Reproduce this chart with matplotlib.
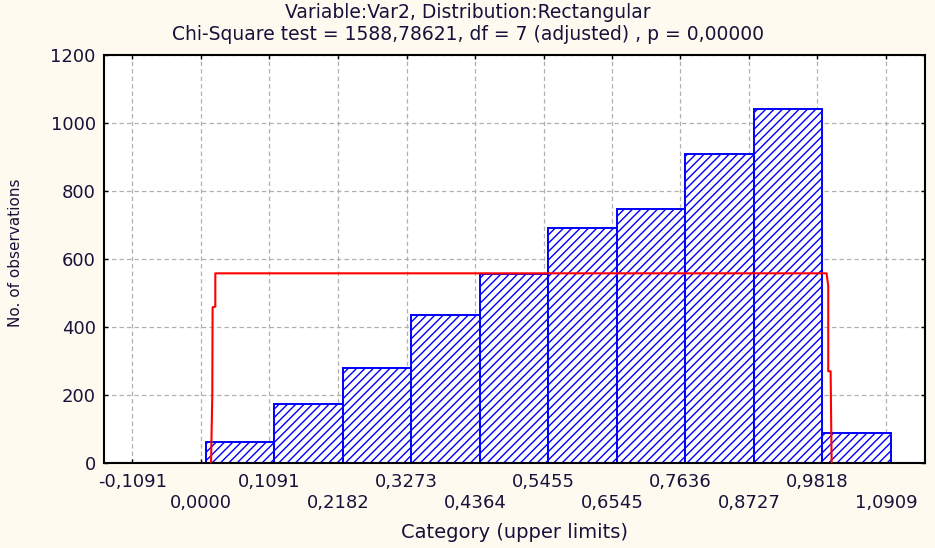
import matplotlib
matplotlib.use("Agg")
import matplotlib.pyplot as plt
import numpy as np

# histogram bins (category upper limits) and observed counts
bin_edges = [0.0, 0.1091, 0.2182, 0.3273, 0.4364, 0.5455,
             0.6545, 0.7636, 0.8727, 0.9818, 1.0909]
counts = [61, 174, 279, 435, 556, 691, 748, 908, 1042, 87]

# fitted rectangular distribution (expected counts)
fit_x = [0.0160, 0.0180, 0.0185, 0.0228, 0.0228, 0.9963, 0.9989, 0.9989, 1.0027, 1.0043]
fit_y = [0, 200, 458, 460, 558, 558, 521, 270, 270, 0]

x_ticks = [-0.1091, 0.0, 0.1091, 0.2182, 0.3273, 0.4364, 0.5455,
           0.6545, 0.7636, 0.8727, 0.9818, 1.0909]
x_tick_labels = ["-0,1091", "0,0000", "0,1091", "0,2182", "0,3273", "0,4364",
                 "0,5455", "0,6545", "0,7636", "0,8727", "0,9818", "1,0909"]
y_ticks = [0, 200, 400, 600, 800, 1000, 1200]

title1 = "Variable:Var2, Distribution:Rectangular"
title2 = "Chi-Square test = 1588,78621, df = 7 (adjusted) , p = 0,00000"

txt = "#16123a"
plt.rcParams["font.family"] = ["DejaVu Sans"]
plt.rcParams["hatch.linewidth"] = 1.0

fig = plt.figure(figsize=(9.35, 5.48), dpi=100, facecolor="#fffaf0")
ax = fig.add_axes([0.1112, 0.155, 0.8781, 0.7446])
ax.set_facecolor("white")

# bars are drawn slightly right of the tick, as in the original program
shift = 0.0075
edges = np.array(bin_edges)
ax.bar(edges[:-1] + shift, counts, width=np.diff(edges), align="edge",
       facecolor="white", edgecolor="#0000ff", linewidth=1.4,
       hatch="////", zorder=2)

ax.plot(fit_x, fit_y, color="#ff0000", linewidth=1.5, zorder=3)

ax.set_xlim(-0.1545, 1.153)
ax.set_ylim(0, 1200)
ax.set_xticks(x_ticks)
# alternate labels on two rows
ax.set_xticklabels([l if i % 2 == 0 else "\n" + l for i, l in enumerate(x_tick_labels)])
ax.set_yticks(y_ticks)

ax.grid(True, color="#b0b0b0", linestyle=(0, (3.5, 2.5)), linewidth=0.9)
ax.set_axisbelow(True)

for s in ax.spines.values():
    s.set_linewidth(1.5)
    s.set_color("black")

ax.tick_params(axis="both", direction="in", length=3, width=1,
               labelsize=13, labelcolor=txt, top=True, right=True)
ax.tick_params(axis="x", pad=7)
ax.tick_params(axis="y", pad=6)

ax.set_xlabel("Category (upper limits)", fontsize=14, color=txt)
ax.xaxis.set_label_coords(0.5, -0.146)
ax.set_ylabel("No. of observations", fontsize=11, color=txt)
ax.yaxis.set_label_coords(-0.099, 0.515)

fig.text(0.5, 1 - 12 / 548, title1, ha="center", va="center", fontsize=13.5, color=txt)
fig.text(0.5, 1 - 35 / 548, title2, ha="center", va="center", fontsize=13.5, color=txt)

fig.savefig("out.png", dpi=100, facecolor=fig.get_facecolor())
